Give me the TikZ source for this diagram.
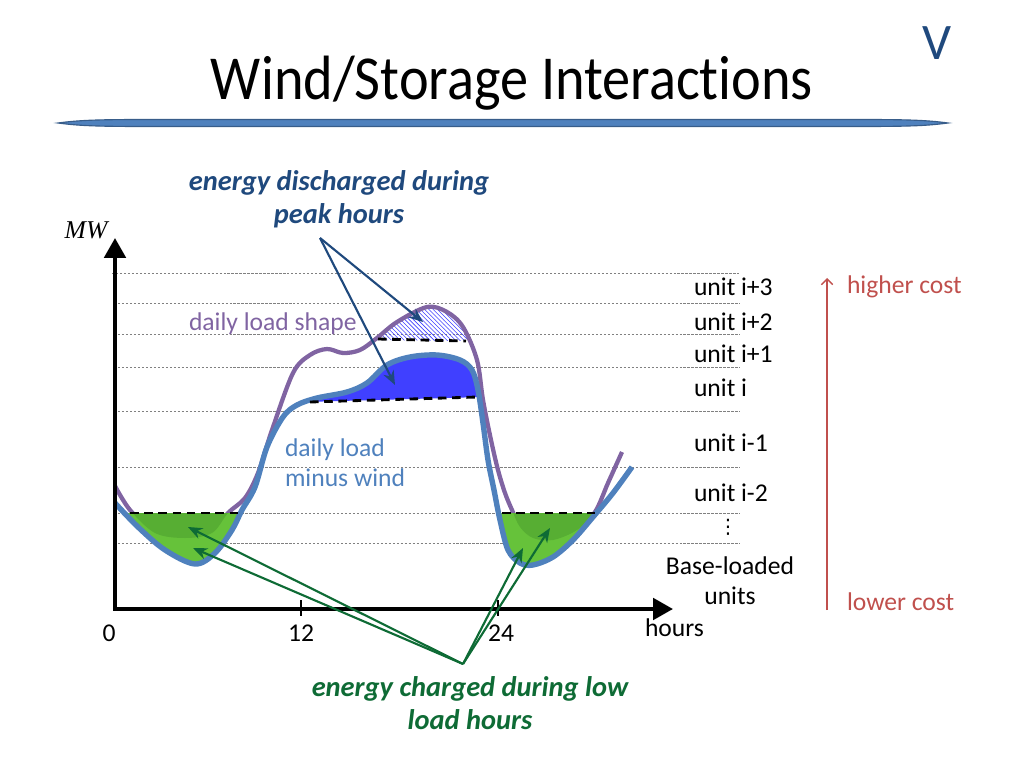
\documentclass[tikz,border=0pt]{standalone}
\usepackage{fontspec}
\setmainfont{Carlito}[Ligatures=NoCommon]
\newfontfamily\timesfont{Liberation Serif}
\newfontfamily\symbolfont{DejaVu Sans}
\usetikzlibrary{arrows.meta,patterns}

\definecolor{loadpurple}{HTML}{8064A2}
\definecolor{netblue}{HTML}{4F81BD}
\definecolor{peakblue}{HTML}{4040FF}
\definecolor{darkblue}{HTML}{1F497D}
\definecolor{chargegreen}{HTML}{66C23A}
\definecolor{innergreen}{HTML}{57AE33}
\definecolor{darkgreen}{HTML}{0E6B35}
\definecolor{costred}{HTML}{C0504D}
\definecolor{baredge}{HTML}{385D8A}

\tikzset{
  axis/.style={line width=2.8pt, line join=miter},
  unitline/.style={gray, line width=0.6pt, dash pattern=on 1.6pt off 1.2pt},
  cutline/.style={black, line width=2pt, dash pattern=on 6pt off 4pt},
  unitlabel/.style={anchor=west, font=\fontsize{18}{22}\selectfont},
  note/.style={align=center, font=\fontsize{20}{23}\selectfont\bfseries\itshape},
  pointer/.style={line width=1.5pt, -{Stealth[length=10pt,width=8pt]}},
}

% daily load shape and daily load minus wind
\newcommand{\loadcurve}{plot[smooth,tension=0.55] coordinates {(115,486) (130,510) (155,533) (185,538) (212,533) (228,513) (245,498) (258,473) (272,430) (293,373) (310,355) (327,349) (343,353) (360,350) (377,338) (397,322) (427,307) (447,312) (463,327) (477,360) (483,400) (491,440) (498,470) (505,493) (512,510) (520,527) (533,538) (553,540) (577,530) (595,512) (608,483) (622,452)}}
\newcommand{\netcurve}{plot[smooth,tension=0.55] coordinates {(115,503) (138,527) (165,550) (195,564) (215,553) (232,530) (242,510) (255,487) (267,447) (283,417) (297,405) (317,398) (347,392) (367,383) (387,365) (410,357) (437,355) (460,360) (472,370) (478,390) (483,423) (488,460) (494,490) (500,520) (508,550) (520,563) (533,565) (553,557) (573,540) (593,517) (613,493) (632,467)}}

\begin{document}
\begin{tikzpicture}[x=0.703125pt,y=-0.703125pt]
\useasboundingbox (0,0) rectangle (1024,768);

% title
\node[font=\fontsize{44}{50}\selectfont, xscale=0.9, anchor=base](title) at (512,100) {Wind/Storage Interactions};
\node[font=\fontsize{36}{40}\selectfont, text=darkblue, anchor=base](slideno) at (937,60) {V};
\fill[netblue, draw=baredge, line width=0.8pt] (58,123) .. controls (80,120) and (100,119.5) .. (150,119.5) -- (856,119.5) .. controls (906,119.5) and (926,120) .. (948,123) .. controls (926,126) and (906,126.5) .. (856,126.5) -- (150,126.5) .. controls (100,126.5) and (80,126) .. cycle;

% unit levels
\draw[unitline] (112,273) -- (740,273);
\draw[unitline] (118,303) -- (740,303);
\draw[unitline] (118,334) -- (740,334);
\draw[unitline] (118,367) -- (740,367);
\draw[unitline] (118,411) -- (740,411);
\draw[unitline] (118,467) -- (740,467);
\draw[unitline] (118,513) -- (740,513);
\draw[unitline] (118,543) -- (740,543);

% discharged energy
\begin{scope}
\clip \loadcurve -- (622,700) -- (115,700) -- cycle;
\fill[pattern=north west lines, pattern color=peakblue] (370,340) -- (467,341) -- (467,280) -- (370,280) -- cycle;
\end{scope}
\begin{scope}
\clip \netcurve -- (632,700) -- (115,700) -- cycle;
\fill[peakblue] (305,402) -- (482,397) -- (482,320) -- (305,320) -- cycle;
\end{scope}

\draw[loadpurple, line width=3pt] \loadcurve;

% charged energy
\begin{scope}
\clip \netcurve -- (632,200) -- (115,200) -- cycle;
\fill[chargegreen] (120,513) rectangle (250,600);
\fill[chargegreen] (495,513) rectangle (605,600);
\end{scope}
\begin{scope}
\clip \loadcurve -- (622,200) -- (115,200) -- cycle;
\fill[innergreen] (120,513) rectangle (250,600);
\fill[innergreen] (495,513) rectangle (605,600);
\end{scope}

\draw[netblue, line width=3.8pt] \netcurve;

\draw[cutline] (378,339) -- (466,341);
\draw[cutline] (310,402) -- (478,397);
\draw[cutline] (130,513) -- (240,513);
\draw[cutline] (502,513) -- (595,513);

% axes
\coordinate (origin) at (115,609);
\coordinate (ytip) at (115,238);
\coordinate (xtip) at (673,609);
\draw[axis, {Triangle[length=14pt,width=15pt]}-{Triangle[length=14pt,width=15pt]}] (ytip) -- (origin) -- (xtip);
\draw[line width=1pt] (301,600) -- (301,616);
\draw[line width=1pt] (498,600) -- (498,616);
\node[font=\timesfont\itshape\fontsize{18}{22}\selectfont, anchor=base](mw) at (86,239) {MW};
\node[font=\fontsize{18}{22}\selectfont](zero) at (109,633) {0};
\node[font=\fontsize{18}{22}\selectfont](twelve) at (301,633) {12};
\node[font=\fontsize{18}{22}\selectfont](twentyfour) at (501,633) {24};
\node[unitlabel](hours) at (640,628) {hours};

% curve labels
\node[unitlabel, text=loadpurple](loadlabel) at (184,324) {daily load shape};
\node[unitlabel, text=netblue, align=left, font=\fontsize{18}{21}\selectfont](netlabel) at (280,463) {daily load\\minus wind};

% units
\node[unitlabel](ui3) at (689,287) {unit i+3};
\node[unitlabel](ui2) at (689,322) {unit i+2};
\node[unitlabel](ui1) at (689,354) {unit i+1};
\node[unitlabel](ui0) at (689,388) {unit i};
\node[unitlabel](uim1) at (689,443) {unit i-1};
\node[unitlabel](uim2) at (689,493) {unit i-2};
\node[font=\symbolfont\fontsize{14}{16}\selectfont](dots) at (728,527) {⋮};
\node[align=center, font=\fontsize{18}{21}\selectfont](base) at (730,581) {Base-loaded\\units};

% cost scale
\coordinate (lowcost) at (827,610);
\coordinate (highcost) at (827,278);
\draw[costred, line width=1pt, -{Straight Barb[length=4pt,width=8pt]}] (lowcost) -- (highcost);
\node[unitlabel, text=costred](higher) at (842,287) {higher cost};
\node[unitlabel, text=costred](lower) at (842,602) {lower cost};

% annotations
\node[note, text=darkblue](peaknote) at (339,199) {energy discharged during\\peak hours};
\coordinate (peakapex) at (320,238);
\coordinate (peaktop) at (423,322);
\coordinate (peakmid) at (395,385);
\draw[pointer, darkblue] (peakapex) -- (peaktop);
\draw[pointer, darkblue] (peakapex) -- (peakmid);

\node[note, text=darkgreen](chargenote) at (470,703) {energy charged during low\\load hours};
\coordinate (chargeapex) at (463,664);
\coordinate (leftin) at (188,527);
\coordinate (leftout) at (193,548);
\coordinate (rightout) at (523,548);
\coordinate (rightin) at (550,528);
\draw[pointer, darkgreen] (chargeapex) -- (leftin);
\draw[pointer, darkgreen] (chargeapex) -- (leftout);
\draw[pointer, darkgreen] (chargeapex) -- (rightout);
\draw[pointer, darkgreen] (chargeapex) -- (rightin);
\end{tikzpicture}
\end{document}
